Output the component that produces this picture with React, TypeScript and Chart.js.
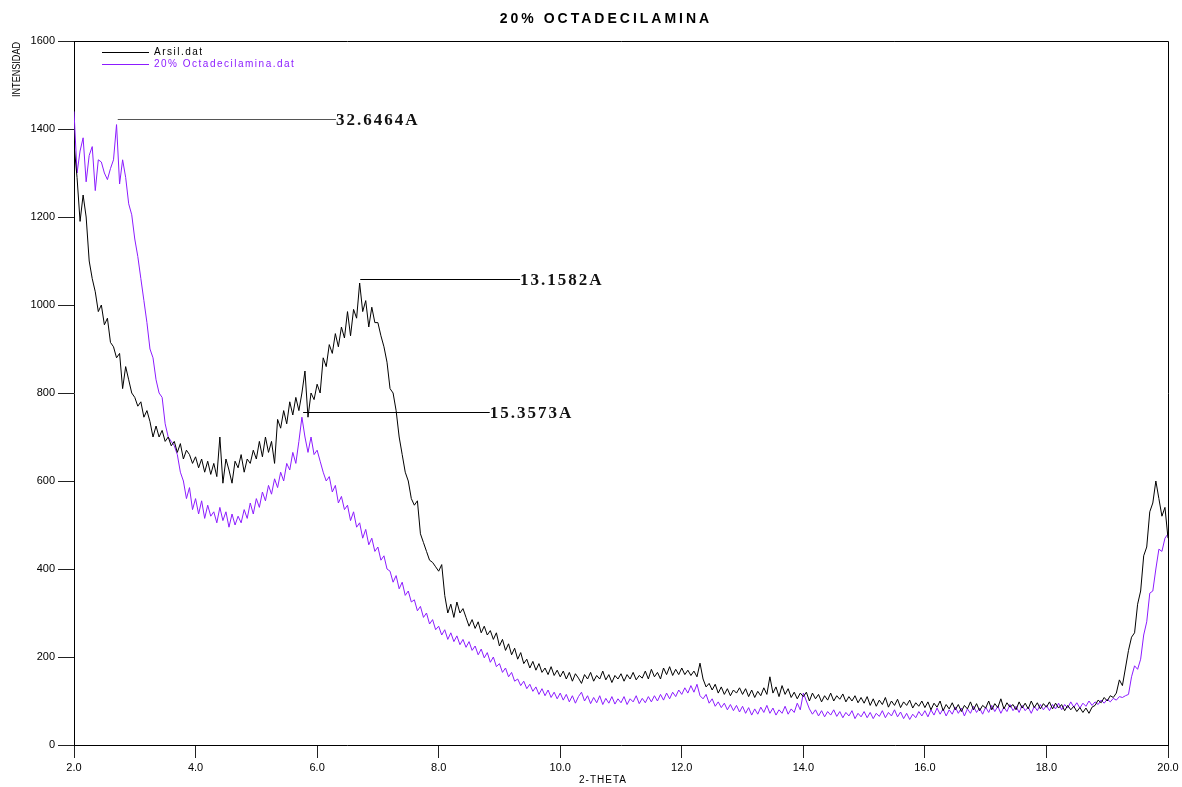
import React, { useEffect, useRef } from 'react';
import { Chart, registerables } from 'chart.js';

Chart.register(...registerables);

// ---------- DATA ----------
const THETA_START = 2.0;
const THETA_STEP = 0.05;

const seriesNames = ['Arsil.dat', '20% Octadecilamina.dat'];

// Intensity of Arsil.dat, sampled every 0.05 deg 2-theta from 2.00 to 20.00
const arsil: number[] = [
  1365, 1290, 1190, 1250, 1200, 1100, 1060, 1030, 985, 1000, 955, 970, 915, 905, 880, 890, 810, 860, 830, 800,
  790, 770, 780, 745, 760, 735, 700, 725, 700, 715, 690, 700, 680, 690, 665, 685, 650, 670, 660, 640,
  655, 630, 650, 620, 645, 615, 640, 610, 700, 595, 650, 625, 595, 645, 630, 660, 620, 650, 640, 670,
  650, 690, 655, 700, 665, 690, 640, 740, 720, 760, 730, 780, 750, 790, 760, 800, 850, 745, 800, 785,
  820, 800, 880, 860, 910, 890, 935, 905, 950, 925, 985, 930, 990, 970, 1050, 985, 1010, 950, 995, 960,
  960, 930, 905, 870, 810, 800, 760, 700, 660, 620, 600, 560, 545, 555, 480, 460, 440, 420, 415, 405,
  395, 410, 340, 300, 320, 290, 325, 300, 310, 290, 270, 285, 265, 280, 255, 270, 250, 260, 240, 255,
  225, 240, 215, 230, 205, 220, 195, 210, 185, 195, 175, 190, 170, 185, 165, 175, 160, 178, 158, 170,
  155, 168, 150, 165, 145, 162, 152, 140, 160, 150, 165, 145, 158, 150, 168, 148, 160, 142, 158, 150,
  162, 145, 160, 150, 165, 148, 158, 152, 168, 150, 172, 155, 165, 150, 175, 160, 178, 158, 172, 160,
  175, 160, 170, 158, 168, 155, 186, 150, 132, 140, 125, 138, 118, 132, 115, 128, 112, 125, 118, 130,
  115, 128, 110, 125, 108, 122, 112, 130, 115, 155, 118, 132, 110, 135, 115, 128, 108, 120, 105, 118,
  110, 120, 100, 118, 105, 115, 98, 112, 102, 118, 100, 112, 104, 116, 98, 110, 100, 112, 96, 108,
  95, 110, 90, 105, 88, 102, 92, 108, 86, 100, 90, 104, 85, 98, 90, 102, 84, 96, 88, 100,
  85, 98, 80, 95, 86, 100, 78, 92, 82, 96, 80, 92, 76, 90, 82, 98, 80, 94, 78, 90,
  84, 100, 80, 94, 85, 105, 82, 96, 86, 92, 80, 98, 84, 95, 82, 100, 85, 96, 82, 94,
  86, 98, 82, 95, 84, 92, 78, 90, 80, 88, 76, 85, 74, 84, 72, 86, 90, 102, 96, 108,
  100, 112, 108, 118, 148, 135, 175, 215, 245, 255, 320, 350, 430, 450, 530, 550, 600, 560, 520, 540,
  470,
];

// Intensity of 20% Octadecilamina.dat, same 2-theta grid
const octadecilamina: number[] = [
  1440, 1300, 1350, 1380, 1280, 1340, 1360, 1260, 1330, 1325, 1300, 1285, 1310, 1330, 1410, 1275, 1330, 1290, 1230, 1205,
  1150, 1110, 1060, 1010, 960, 900, 880, 830, 800, 790, 730, 700, 690, 680, 660, 620, 600, 560, 585, 535,
  560, 525, 555, 515, 545, 520, 530, 505, 540, 510, 530, 495, 525, 500, 520, 505, 535, 515, 550, 525,
  560, 540, 575, 555, 590, 570, 605, 585, 620, 600, 640, 625, 665, 640, 690, 745, 700, 665, 700, 660,
  670, 645, 620, 600, 610, 575, 590, 550, 565, 535, 545, 510, 530, 495, 505, 470, 490, 455, 470, 440,
  450, 420, 430, 400, 395, 370, 385, 355, 370, 340, 350, 325, 330, 305, 315, 290, 300, 275, 285, 262,
  270, 250, 262, 240, 255, 235, 248, 228, 240, 222, 235, 215, 225, 205, 218, 198, 210, 188, 200, 178,
  185, 165, 175, 155, 165, 145, 150, 135, 145, 128, 138, 122, 132, 115, 128, 112, 125, 108, 120, 105,
  118, 102, 115, 98, 112, 95, 110, 120, 100, 112, 94, 108, 96, 112, 92, 106, 95, 110, 93, 105,
  96, 110, 92, 105, 98, 112, 94, 106, 96, 110, 98, 112, 100, 115, 102, 118, 105, 120, 110, 125,
  115, 130, 118, 135, 120, 138, 112, 105, 115, 95, 105, 88, 98, 85, 95, 80, 92, 78, 90, 75,
  88, 72, 85, 68, 82, 70, 86, 74, 90, 72, 84, 68, 80, 72, 88, 70, 82, 74, 95, 80,
  118, 100, 82, 70, 80, 66, 78, 64, 76, 68, 80, 65, 76, 62, 74, 66, 78, 60, 72, 64,
  76, 62, 74, 60, 72, 65, 78, 62, 74, 66, 80, 64, 75, 60, 72, 58, 70, 62, 76, 66,
  78, 64, 80, 68, 84, 70, 82, 66, 80, 70, 86, 72, 84, 66, 82, 72, 88, 74, 84, 70,
  86, 74, 90, 76, 88, 72, 86, 76, 92, 78, 88, 74, 90, 78, 86, 72, 88, 78, 92, 80,
  90, 78, 92, 82, 95, 80, 92, 84, 98, 86, 96, 84, 95, 88, 100, 90, 98, 92, 102, 95,
  104, 98, 106, 102, 110, 108, 112, 115, 155, 180, 172, 195, 250, 280, 345, 350, 400, 445, 440, 470,
  480,
];

const twoTheta: number[] = arsil.map((_, i) => Math.round((THETA_START + i * THETA_STEP) * 100) / 100);

const xTickValues = [2, 4, 6, 8, 10, 12, 14, 16, 18, 20];
const yTickValues = [0, 200, 400, 600, 800, 1000, 1200, 1400, 1600];

// Peak annotations (d-spacing labels)
const peakLabels = ['32.6464A', '13.1582A', '15.3573A'];
const peakTheta = [2.72, 6.71, 5.77];
const peakIntensity = [1423, 1059, 757];
const labelTheta = [6.31, 9.34, 8.84];

const TITLE = '20% OCTADECILAMINA';
const X_TITLE = '2-THETA';
const Y_TITLE = 'INTENSIDAD';

// ---------- STYLE ----------
const COLORS = ['#000000', '#8c1cff'];
const SANS = "'Liberation Sans', Arial, sans-serif";
const SERIF = "'Liberation Serif', 'Times New Roman', serif";

const decorPlugin = {
  id: 'decor',
  afterDraw(chart: any) {
    const { ctx, chartArea: a, scales } = chart;
    const xs = scales.x;
    const ys = scales.y;
    ctx.save();

    // frame (top and right)
    ctx.strokeStyle = '#000';
    ctx.lineWidth = 1;
    ctx.beginPath();
    ctx.moveTo(a.left, Math.round(a.top) + 0.5);
    ctx.lineTo(Math.round(a.right) + 0.5, Math.round(a.top) + 0.5);
    ctx.lineTo(Math.round(a.right) + 0.5, a.bottom);
    ctx.stroke();

    // title
    ctx.fillStyle = '#000';
    ctx.font = `bold 14px ${SANS}`;
    (ctx as any).letterSpacing = '3px';
    ctx.textAlign = 'center';
    ctx.textBaseline = 'middle';
    ctx.fillText(TITLE, 606, 19);

    // x title
    ctx.font = `10px ${SANS}`;
    (ctx as any).letterSpacing = '1px';
    ctx.fillText(X_TITLE, 603, 780);

    // y title (rotated, aligned to top)
    ctx.save();
    ctx.translate(17, 97);
    ctx.rotate(-Math.PI / 2);
    ctx.textAlign = 'left';
    (ctx as any).letterSpacing = '0px';
    ctx.font = `10px ${SANS}`;
    ctx.fillText(Y_TITLE, 0, 0, 55);
    ctx.restore();

    // legend
    ctx.textAlign = 'left';
    ctx.font = `10px ${SANS}`;
    (ctx as any).letterSpacing = '1.5px';
    seriesNames.forEach((name, i) => {
      const yy = 52.5 + i * 12;
      ctx.strokeStyle = COLORS[i];
      ctx.beginPath();
      ctx.moveTo(102, yy);
      ctx.lineTo(149, yy);
      ctx.stroke();
      ctx.fillStyle = COLORS[i];
      ctx.fillText(name, 154, yy);
    });

    // peak annotations
    ctx.font = `bold 17px ${SERIF}`;
    (ctx as any).letterSpacing = '2px';
    ctx.fillStyle = '#111';
    peakLabels.forEach((lab, i) => {
      const x0 = xs.getPixelForValue(peakTheta[i]);
      const x1 = xs.getPixelForValue(labelTheta[i]);
      const yy = Math.round(ys.getPixelForValue(peakIntensity[i])) + 0.5;
      ctx.strokeStyle = i === 0 ? '#555' : '#000';
      ctx.beginPath();
      ctx.moveTo(x0, yy);
      ctx.lineTo(x1, yy);
      ctx.stroke();
      ctx.fillText(lab, x1, yy + 1.5);
    });

    ctx.restore();
  },
};

export default function App() {
  const ref = useRef<HTMLCanvasElement>(null);

  useEffect(() => {
    if (!ref.current) return;
    const datasets = [arsil, octadecilamina].map((vals, i) => ({
      label: seriesNames[i],
      data: twoTheta.map((t, j) => ({ x: t, y: vals[j] })),
      borderColor: COLORS[i],
      backgroundColor: COLORS[i],
      borderWidth: 1,
      pointRadius: 0,
      tension: 0,
      fill: false,
    }));

    const chart = new Chart(ref.current, {
      type: 'line',
      data: { datasets },
      plugins: [decorPlugin],
      options: {
        animation: false,
        responsive: false,
        devicePixelRatio: 1,
        layout: { padding: { left: 0, right: 14, top: 41, bottom: 0 } },
        plugins: {
          legend: { display: false },
          title: { display: false },
          tooltip: { enabled: false },
        },
        scales: {
          x: {
            type: 'linear',
            min: 2,
            max: 20,
            afterBuildTicks: (s: any) => {
              s.ticks = xTickValues.map((v) => ({ value: v }));
            },
            afterFit: (s: any) => {
              s.height = 42;
            },
            grid: {
              drawOnChartArea: false,
              drawTicks: true,
              tickLength: 13,
              color: '#222',
            },
            border: { display: true, color: '#000', width: 1 },
            ticks: {
              padding: 3,
              color: '#000',
              font: { family: SANS, size: 11 },
              maxRotation: 0,
              autoSkip: false,
              callback: (v: any) => Number(v).toFixed(1),
            },
          },
          y: {
            type: 'linear',
            min: 0,
            max: 1600,
            afterBuildTicks: (s: any) => {
              s.ticks = yTickValues.map((v) => ({ value: v }));
            },
            afterFit: (s: any) => {
              s.width = 74;
            },
            grid: {
              drawOnChartArea: false,
              drawTicks: true,
              tickLength: 16,
              color: '#222',
            },
            border: { display: true, color: '#000', width: 1 },
            ticks: {
              padding: 3,
              color: '#000',
              font: { family: SANS, size: 11 },
              autoSkip: false,
              callback: (v: any) => String(v),
            },
          },
        },
      },
    });
    return () => chart.destroy();
  }, []);

  return (
    <div style={{ position: 'absolute', left: 0, top: 0, width: 1182, height: 787, background: '#fff' }}>
      <canvas ref={ref} width={1182} height={787} style={{ display: 'block', width: 1182, height: 787 }} />
    </div>
  );
}
